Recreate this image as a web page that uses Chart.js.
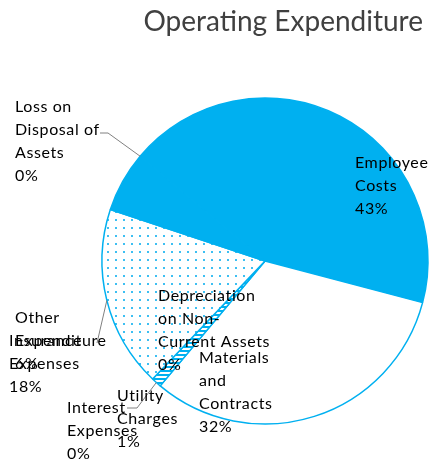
<!DOCTYPE html>
<html>
<head>
<meta charset="utf-8">
<script src="https://cdn.jsdelivr.net/npm/chart.js@4.4.1/dist/chart.umd.min.js"></script>
<style>
  html, body { margin: 0; padding: 0; background: #fff; }
  canvas { display: block; }
</style>
</head>
<body>
<canvas id="opex-chart" width="432" height="462"></canvas>
<script>
/* operating expenditure pie */
const categories = ['Employee Costs', 'Materials and Contracts', 'Utility Charges', 'Interest Expenses',
  'Depreciation on Non-Current Assets', 'Insurance Expenses', 'Other Expenditure', 'Loss on Disposal of Assets'];
const shares = [43, 32, 1, 0, 0, 18, 6, 0];
const labelLines = [
  ['Employee', 'Costs'],
  ['Materials', 'and', 'Contracts'],
  ['Utility', 'Charges'],
  ['Interest', 'Expenses'],
  ['Depreciation', 'on Non-', 'Current Assets'],
  ['Insurance', 'Expenses'],
  ['Other', 'Expenditure'],
  ['Loss on', 'Disposal of', 'Assets']
];

const BLUE = '#00B0F0';
const LINE_H = 22.8;

// where each label sits (text box top-left line centre) and leader elbows
const labelSpots = [
  { i: 0, x: 355, y: 163 },
  { i: 1, x: 199, y: 358 },
  { i: 4, x: 158, y: 296 },
  { i: 2, x: 117, y: 396, leader: [[127, 408], [137, 408]] },
  { i: 3, x: 67, y: 408 },
  { i: 6, x: 15, y: 318 },
  { i: 5, x: 9, y: 341, leader: [[97, 343]] },
  { i: 7, x: 15, y: 107, leader: [[100, 133], [108, 133]] }
];

const cv = document.getElementById('opex-chart');
const baseCtx = cv.getContext('2d');

function makePattern(size, draw) {
  const tile = document.createElement('canvas');
  tile.width = tile.height = size;
  draw(tile.getContext('2d'));
  return baseCtx.createPattern(tile, 'repeat');
}

const dotted = makePattern(8, g => {
  g.fillStyle = '#fff'; g.fillRect(0, 0, 8, 8);
  g.fillStyle = '#3dbff2'; g.fillRect(3, 3, 2, 2);
});
const hatched = makePattern(4, g => {
  g.fillStyle = BLUE; g.fillRect(0, 0, 4, 4);
  g.fillStyle = '#fff'; g.fillRect(0, 0, 4, 2);
});

const fills = [BLUE, '#ffffff', hatched, BLUE, BLUE, dotted, BLUE, BLUE];

const total = shares.reduce((s, v) => s + v, 0);
const pct = i => Math.round(shares[i] / total * 100) + '%';

const sliceLabels = {
  id: 'sliceLabels',
  afterDatasetsDraw(chart) {
    const ctx = chart.ctx;
    const arcs = chart.getDatasetMeta(0).data;
    ctx.save();
    ctx.font = '16px Lato';
    if ('letterSpacing' in ctx) ctx.letterSpacing = '0.6px';
    ctx.textBaseline = 'middle';
    ctx.textAlign = 'left';
    labelSpots.forEach(s => {
      const arc = arcs[s.i];
      if (s.leader) {
        const mid = (arc.startAngle + arc.endAngle) / 2;
        const ex = arc.x + Math.cos(mid) * arc.outerRadius;
        const ey = arc.y + Math.sin(mid) * arc.outerRadius;
        ctx.strokeStyle = '#808080';
        ctx.lineWidth = 1;
        ctx.beginPath();
        ctx.moveTo(s.leader[0][0], s.leader[0][1]);
        s.leader.slice(1).forEach(p => ctx.lineTo(p[0], p[1]));
        ctx.lineTo(ex, ey);
        ctx.stroke();
      }
      ctx.fillStyle = '#000';
      labelLines[s.i].concat(pct(s.i)).forEach((t, k) => ctx.fillText(t, s.x, s.y + k * LINE_H));
    });
    ctx.restore();
  }
};

new Chart(cv, {
  type: 'pie',
  data: {
    labels: categories,
    datasets: [{
      data: shares,
      backgroundColor: fills,
      borderColor: BLUE,
      borderWidth: 1.5,
      hoverOffset: 0,
      radius: 163,
      clip: false
    }]
  },
  options: {
    responsive: false,
    animation: false,
    rotation: -50,
    layout: { padding: { left: 107, right: 9, top: 0, bottom: 0 } },
    plugins: {
      legend: { display: false },
      tooltip: { enabled: false },
      title: {
        display: true,
        text: 'Operating Expenditure',
        align: 'end',
        color: '#404040',
        font: { family: 'Lato', size: 28, weight: 'normal' },
        padding: { top: 5, bottom: 21.4 }
      }
    }
  },
  plugins: [sliceLabels]
});
</script>
</body>
</html>
